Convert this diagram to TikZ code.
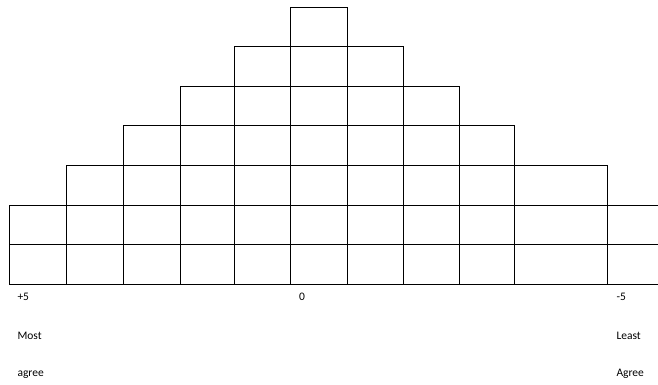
\documentclass[tikz,border=0pt]{standalone}
\usepackage{fontspec}
\setmainfont{Carlito}
\usetikzlibrary{positioning}

\begin{document}
\begin{tikzpicture}[x=1pt,y=-1pt,font=\fontsize{11.5}{13}\selectfont,
 cell/.style={draw,line width=0.9pt,inner sep=0pt,outer sep=0pt,minimum height=39.6pt,anchor=south west},
 lab/.style={anchor=base west,inner sep=0pt}]
 \useasboundingbox (0,0) rectangle (658,384);
 \clip (0,0) rectangle (658,384);
 % columns: number / left edge / width / cells
 \foreach \i/\x/\w/\n in {1/9.3/57.4/2, 2/66.7/56.6/3, 3/123.3/56.7/4, 4/180/54.5/5,
   5/234.5/56/6, 6/290.5/56.5/7, 7/347/56.3/6, 8/403.3/55.7/5, 9/459/55.5/4,
   10/514.5/92.8/3, 11/607.3/56/2}{
   \foreach \j in {1,...,\n}
     \node[cell,minimum width=\w pt] (c\i-\j) at (\x,{284.3-39.6*(\j-1)}) {};
 }
 \node[lab] (p5) at (17.3,300.7) {+5};
 \node[lab] (zero) at (299,300.7) {0};
 \node[lab] (m5) at (616.3,300.7) {-5};
 \node[lab] (most) at (17.3,339.7) {Most};
 \node[lab] (agr) at (17.3,376.7) {agree};
 \node[lab] (least) at (616.3,339.7) {Least};
 \node[lab] (Agr) at (616.3,376.7) {Agree};
\end{tikzpicture}
\end{document}
